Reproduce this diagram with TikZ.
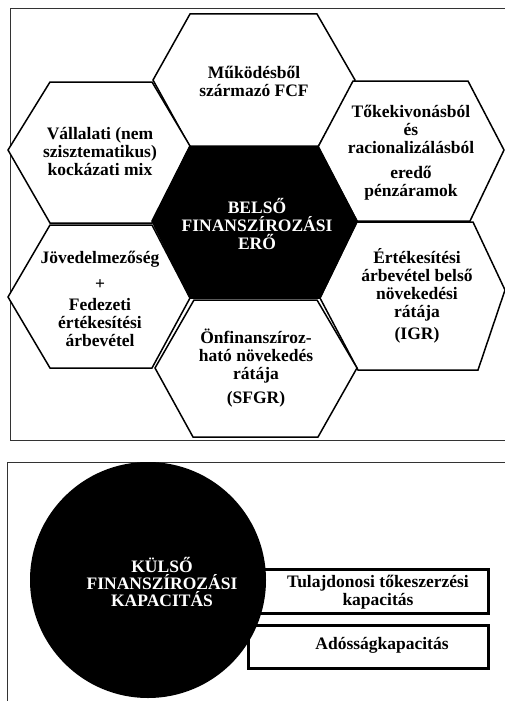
\documentclass[tikz,border=0pt]{standalone}
\usepackage{fontspec}
\setmainfont{Liberation Serif}
\begin{document}
\begin{tikzpicture}[x=1pt,y=-1pt,
  hexline/.style={draw=black,line width=1.5pt,line join=miter},
  txt/.style={align=center,inner sep=0pt,font=\fontsize{17.5}{18}\selectfont\bfseries},
  wtxt/.style={txt,text=white},
  frameline/.style={draw=black!80,line width=1pt},
  boxline/.style={draw=black,line width=3pt,fill=white}]
\useasboundingbox (0,0) rectangle (505,701);
% frames
\draw[frameline] (10,9) rectangle (520,440);
\draw[frameline] (7,462) rectangle (520,720);
% hexagons
\draw[hexline,fill=white] (153,80) -- (190,14) -- (317,14) -- (355,80) -- (318,147) -- (190,147) -- cycle;
\draw[hexline,fill=white] (8,150) -- (50,82) -- (152,82) -- (190,146) -- (152,223) -- (50,223) -- cycle;
\draw[hexline,fill=white] (318,147) -- (353,81) -- (468,81) -- (504,150) -- (470,221) -- (357,221) -- cycle;
\draw[hexline,fill=white] (8,297) -- (50,225) -- (152,225) -- (190,298) -- (152,368) -- (50,368) -- cycle;
\draw[hexline,fill=white] (320,298) -- (357,222) -- (473,222) -- (505,290) -- (478,370) -- (358,370) -- cycle;
\draw[hexline,fill=white] (155,368) -- (194,300) -- (317,300) -- (357,368) -- (318,437) -- (193,437) -- cycle;
\draw[hexline,fill=black] (152,221) -- (190,146) -- (318,146) -- (357,221) -- (320,298) -- (190,298) -- cycle;
% hexagon texts
\node[txt] (fcf) at (254,81) {Működésből\\származó FCF};
\node[txt] (mix) at (100,151.5) {Vállalati (nem\\szisztematikus)\\kockázati mix};
\node[txt] (toke) at (411,153) {Tőkekivonásból\\és\\racionalizálásból\\[7pt]eredő\\pénzáramok};
\node[wtxt] (belso) at (257,224) {BELSŐ\\FINANSZÍROZÁSI\\ERŐ};
\node[txt] (jov) at (100,298.5) {Jövedelmezőség\\[8pt]+\\[3pt]Fedezeti\\értékesítési\\árbevétel};
\node[txt] (igr) at (417,296) {Értékesítési\\árbevétel belső\\növekedési\\rátája\\[4pt](IGR)};
\node[txt] (sfgr) at (256,368.5) {Önfinanszíroz-\\ható növekedés\\rátája\\[6pt](SFGR)};
% bottom part
\draw[boxline] (248,569) rectangle (488,613);
\draw[boxline] (248,625) rectangle (488,668);
\node[txt] (tul) at (378,592) {Tulajdonosi tőkeszerzési\\kapacitás};
\node[txt] (ados) at (382,645) {Adósságkapacitás};
\fill[black] (148,580) circle[radius=118];
\node[wtxt,font=\fontsize{17.5}{17}\selectfont\bfseries] (kulso) at (162,582) {KÜLSŐ\\FINANSZÍROZÁSI\\KAPACITÁS};
\end{tikzpicture}
\end{document}
